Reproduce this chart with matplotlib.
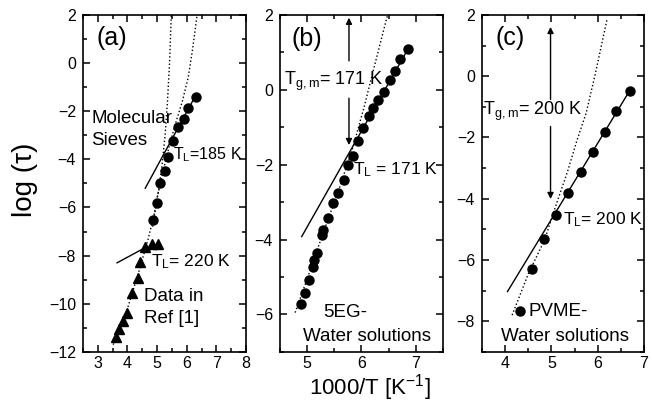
import matplotlib
matplotlib.use('Agg')
import matplotlib.pyplot as plt
from matplotlib.ticker import MultipleLocator

plt.rcParams['font.family'] = ['Liberation Sans', 'DejaVu Sans']
plt.rcParams['mathtext.default'] = 'regular'

# panel (a): molecular sieves (circles) and Ref [1] data (triangles)
a_dot_x = [6.30, 6.03, 5.90, 5.70, 5.53, 5.37, 5.27, 5.10, 5.00, 4.87]
a_dot_y = [-1.41, -1.86, -2.32, -2.65, -3.23, -3.90, -4.48, -4.98, -5.81, -6.52]
a_tri_x = [3.60, 3.73, 3.85, 4.00, 4.15, 4.37, 4.42, 4.60, 4.83, 5.03]
a_tri_y = [-11.40, -11.05, -10.70, -10.40, -9.55, -8.95, -8.25, -7.65, -7.50, -7.50]
a_vft1_x = [3.52, 4.00, 4.40, 4.70, 4.90, 5.05, 5.17, 5.27, 5.35, 5.42, 5.48]
a_vft1_y = [-11.7, -10.2, -8.6, -7.3, -6.3, -5.3, -4.2, -3.0, -1.6, 0.0, 2.0]
a_vft2_x = [4.85, 5.00, 5.20, 5.40, 5.60, 5.85, 6.05, 6.20, 6.35]
a_vft2_y = [-6.8, -5.6, -4.5, -3.5, -2.6, -1.6, -0.6, 0.6, 2.0]
a_arr1_x = [4.60, 6.30]
a_arr1_y = [-5.20, -1.35]
a_arr2_x = [3.65, 4.55]
a_arr2_y = [-8.30, -7.70]

# panel (b): 5EG-water solutions
b_dot_x = [6.86, 6.71, 6.62, 6.53, 6.42, 6.31, 6.22, 6.13, 6.03, 5.94, 5.85, 5.76,
           5.67, 5.57, 5.48, 5.39, 5.30, 5.27, 5.19, 5.13, 5.11, 5.04, 4.96, 4.88]
b_dot_y = [1.09, 0.82, 0.49, 0.26, -0.05, -0.27, -0.49, -0.70, -1.03, -1.38, -1.78, -2.01,
           -2.41, -2.76, -3.03, -3.43, -3.74, -3.88, -4.37, -4.54, -4.72, -5.08, -5.43, -5.72]
b_vft_x = [4.78, 5.00, 5.30, 5.60, 5.85, 6.05, 6.25, 6.48]
b_vft_y = [-5.95, -5.05, -3.80, -2.60, -1.50, -0.45, 0.70, 2.00]
b_arr_x = [4.90, 6.86]
b_arr_y = [-3.92, 1.10]

# panel (c): PVME-water solutions
c_dot_x = [6.69, 6.40, 6.15, 5.89, 5.63, 5.36, 5.09, 4.84, 4.58, 4.32]
c_dot_y = [-0.47, -1.12, -1.81, -2.46, -3.13, -3.82, -4.53, -5.32, -6.30, -7.68]
c_vft_x = [4.15, 4.50, 4.85, 5.10, 5.35, 5.55, 5.75, 5.95, 6.20]
c_vft_y = [-7.80, -6.45, -5.35, -4.20, -3.10, -2.10, -1.20, 0.10, 1.85]
c_arr_x = [4.05, 6.69]
c_arr_y = [-7.03, -0.47]

fig = plt.figure(figsize=(6.52, 4.04), dpi=100)
bot, hgt = 0.129, 0.834
ax_a = fig.add_axes([0.1273, bot, 0.25, hgt])
ax_b = fig.add_axes([0.4294, bot, 0.25, hgt])
ax_c = fig.add_axes([0.7393, bot, 0.2485, hgt])

fs_big = 13.5   # descriptive labels
fs_t = 12.5     # temperature labels
ms = 6.5
arr = dict(arrowstyle='-|>', color='k', lw=1, mutation_scale=9)

# (a)
ax_a.plot(a_vft1_x, a_vft1_y, 'k:', lw=1)
ax_a.plot(a_vft2_x, a_vft2_y, 'k:', lw=1)
ax_a.plot(a_arr1_x, a_arr1_y, 'k-', lw=1)
ax_a.plot(a_arr2_x, a_arr2_y, 'k-', lw=1)
ax_a.plot(a_dot_x, a_dot_y, 'ko', ms=ms)
ax_a.plot(a_tri_x, a_tri_y, 'k^', ms=ms + 1)
ax_a.set_xlim(2.5, 8.0)
ax_a.set_ylim(-12, 2)
ax_a.xaxis.set_major_locator(MultipleLocator(1))
ax_a.yaxis.set_major_locator(MultipleLocator(2))
ax_a.text(2.95, 1.05, '(a)', fontsize=18, va='center')
ax_a.text(2.78, -2.3, 'Molecular', fontsize=fs_big, va='center')
ax_a.text(2.78, -3.2, 'Sieves', fontsize=fs_big, va='center')
ax_a.text(5.55, -3.8, 'T$_L$=185 K', fontsize=11.5, va='center')
ax_a.text(4.78, -8.25, 'T$_L$= 220 K', fontsize=fs_t, va='center')
ax_a.text(4.57, -9.7, 'Data in', fontsize=fs_big, va='center')
ax_a.text(4.57, -10.6, 'Ref [1]', fontsize=fs_big, va='center')

# (b)
ax_b.plot(b_vft_x, b_vft_y, 'k:', lw=1)
ax_b.plot(b_arr_x, b_arr_y, 'k-', lw=1)
ax_b.plot(b_dot_x, b_dot_y, 'ko', ms=ms)
ax_b.set_xlim(4.5, 7.5)
ax_b.set_ylim(-7, 2)
ax_b.xaxis.set_major_locator(MultipleLocator(1))
ax_b.yaxis.set_major_locator(MultipleLocator(2))
ax_b.annotate('', xy=(5.77, 2.0), xytext=(5.77, 0.7), arrowprops=arr)
ax_b.annotate('', xy=(5.77, -1.55), xytext=(5.77, -0.15), arrowprops=arr)
ax_b.text(4.72, 1.35, '(b)', fontsize=18, va='center')
ax_b.text(4.58, 0.22, 'T$_{g,m}$= 171 K', fontsize=13, va='center')
ax_b.text(5.84, -2.14, 'T$_L$ = 171 K', fontsize=fs_t, va='center')
ax_b.text(5.29, -5.96, '5EG-', fontsize=fs_big, va='center')
ax_b.text(4.92, -6.6, 'Water solutions', fontsize=fs_big, va='center')

# (c)
ax_c.plot(c_vft_x, c_vft_y, 'k:', lw=1)
ax_c.plot(c_arr_x, c_arr_y, 'k-', lw=1)
ax_c.plot(c_dot_x, c_dot_y, 'ko', ms=ms)
ax_c.set_xlim(3.5, 7.0)
ax_c.set_ylim(-9, 2)
ax_c.xaxis.set_major_locator(MultipleLocator(1))
ax_c.yaxis.set_major_locator(MultipleLocator(2))
ax_c.annotate('', xy=(4.98, 1.7), xytext=(4.98, -0.85), arrowprops=arr)
ax_c.annotate('', xy=(4.98, -4.1), xytext=(4.98, -1.55), arrowprops=arr)
ax_c.text(3.8, 1.25, '(c)', fontsize=18, va='center')
ax_c.text(3.52, -1.16, 'T$_{g,m}$= 200 K', fontsize=13, va='center')
ax_c.text(5.25, -4.69, 'T$_L$= 200 K', fontsize=fs_t, va='center')
ax_c.text(4.5, -7.68, 'PVME-', fontsize=fs_big, va='center')
ax_c.text(3.9, -8.5, 'Water solutions', fontsize=fs_big, va='center')

for ax in (ax_a, ax_b, ax_c):
    ax.xaxis.set_minor_locator(MultipleLocator(0.5))
    ax.yaxis.set_minor_locator(MultipleLocator(1))
    ax.tick_params(which='both', direction='in', top=True, right=True, width=1.1)
    ax.tick_params(which='major', length=5, labelsize=11.5, pad=5)
    ax.tick_params(axis='x', which='major', pad=3)
    ax.tick_params(which='minor', length=3)
    for s in ax.spines.values():
        s.set_linewidth(1.2)

fig.text(0.038, 0.554, 'log (\u03c4)', rotation=90, fontsize=20, ha='center', va='center')
fig.text(0.567, 0.040, '1000/T [K$^{-1}$]', fontsize=16, ha='center', va='center')

fig.savefig('out.png', dpi=100)
